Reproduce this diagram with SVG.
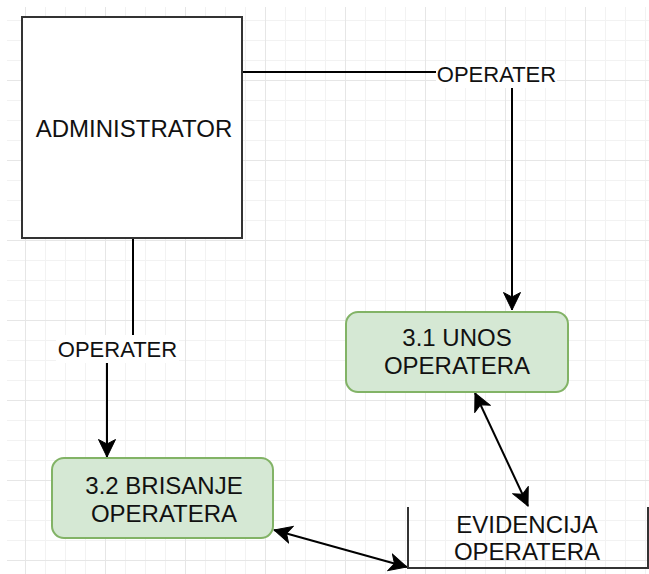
<svg xmlns="http://www.w3.org/2000/svg" width="649" height="574" viewBox="0 0 649 574">
  <style>
    .t { font-family: "Liberation Sans", Arial, Helvetica, sans-serif; fill: #111; text-anchor: middle; }
    .node { font-size: 24px; }
    .lbl { font-size: 22px; }
    .proc { fill: #d5e8d4; stroke: #82b366; stroke-width: 2; }
    .conn { fill: none; stroke: #000; stroke-width: 2; }
    .dark { fill: none; stroke: #333; stroke-width: 2; }
  </style>
  <defs>
    <pattern id="grid" patternUnits="userSpaceOnUse" x="25" y="0" width="80" height="80">
      <rect x="0" y="0" width="80" height="80" fill="#fff"/>
      <g fill="#f2f2f2">
        <rect x="20" y="0" width="1" height="80"/>
        <rect x="40" y="0" width="1" height="80"/>
        <rect x="60" y="0" width="1" height="80"/>
      </g>
      <g fill="#f2f2f2">
        <rect x="0" y="20" width="80" height="1"/>
        <rect x="0" y="40" width="80" height="1"/>
        <rect x="0" y="60" width="80" height="1"/>
      </g>
      <g fill="#e6e6e6">
        <rect x="0" y="0" width="1" height="80"/>
        <rect x="0" y="0" width="80" height="1"/>
      </g>
    </pattern>
    <marker id="arr" markerUnits="userSpaceOnUse" viewBox="0 0 20 20" markerWidth="20" markerHeight="20" refX="18" refY="10" orient="auto-start-reverse">
      <path d="M18,10 L0.5,1.5 L5,10 L0.5,18.5 Z" fill="#000" stroke="#000" stroke-width="1" stroke-linejoin="miter"/>
    </marker>
  </defs>

  <rect x="0" y="0" width="649" height="574" fill="#fff"/>
  <rect x="7" y="7" width="642" height="567" fill="url(#grid)"/>

  <g id="connectors">
    <path class="conn" d="M242,72 H512 V310" marker-end="url(#arr)"/>
    <path class="conn" d="M133,238 V349 H107 V457" marker-end="url(#arr)"/>
    <path class="conn" d="M475,393 L528,506" marker-start="url(#arr)" marker-end="url(#arr)"/>
    <path class="conn" d="M274,530 L407,567" marker-start="url(#arr)" marker-end="url(#arr)"/>
    <g id="label-top">
      <rect x="436" y="64" width="121" height="24" fill="#fff"/>
      <text class="t lbl" x="496.5" y="82">OPERATER</text>
    </g>
    <g id="label-left">
      <rect x="56" y="335" width="123" height="28" fill="#fff"/>
      <text class="t lbl" x="117.5" y="356.5">OPERATER</text>
    </g>
  </g>

  <g id="administrator">
    <rect x="22" y="17" width="220" height="221" fill="#fff" stroke="#333" stroke-width="2"/>
    <text class="t node" x="134" y="137">ADMINISTRATOR</text>
  </g>

  <g id="unos-operatera">
    <rect class="proc" x="346" y="312" width="222" height="80" rx="12" ry="12"/>
    <text class="t node" x="457" y="346">3.1 UNOS</text>
    <text class="t node" x="457" y="373.5">OPERATERA</text>
  </g>

  <g id="brisanje-operatera">
    <rect class="proc" x="52" y="458" width="221" height="80" rx="12" ry="12"/>
    <text class="t node" x="164" y="493.5">3.2 BRISANJE</text>
    <text class="t node" x="164" y="521.5">OPERATERA</text>
  </g>

  <g id="evidencija-operatera">
    <path class="dark" d="M408,507 V568 H648 V507"/>
    <text class="t node" x="527" y="532.5">EVIDENCIJA</text>
    <text class="t node" x="527" y="560">OPERATERA</text>
  </g>
</svg>
